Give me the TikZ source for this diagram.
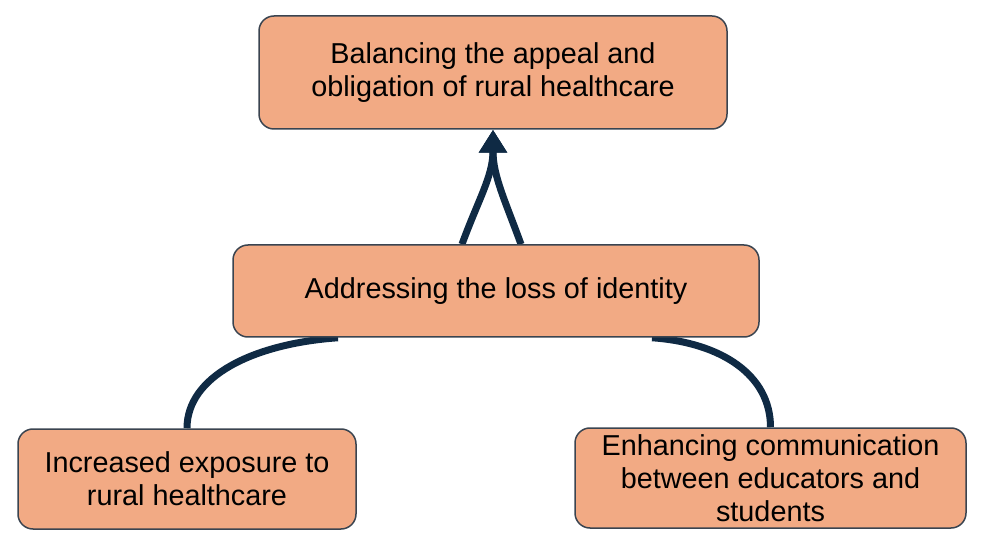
\documentclass[tikz,border=0pt]{standalone}
\usepackage{fontspec}
\setmainfont{Liberation Sans}
\usepackage{tikz}
\usetikzlibrary{arrows.meta,backgrounds}
\definecolor{salmon}{HTML}{F2AA84}
\definecolor{edge}{HTML}{3A4450}
\definecolor{navy}{HTML}{0F2A44}

\tikzset{
  theme/.style={draw=edge,line width=1.5pt,fill=salmon,rounded corners=15pt,
    align=center,inner sep=0pt,font=\fontsize{28.8}{33}\selectfont},
  link/.style={draw=navy,line width=7pt},
  lift/.style={link,-{Triangle[width=27pt,length=23pt]}}
}

\begin{document}
\begin{tikzpicture}[x=1pt,y=1pt]
  \useasboundingbox (0,0) rectangle (986,555);
  \node[theme,minimum width=468pt,minimum height=113pt] (goal) at (493,482.5)
    {Balancing the appeal and\\obligation of rural healthcare};
  \node[theme,minimum width=526pt,minimum height=92pt] (identity) at (496,264)
    {Addressing the loss of identity};
  \node[theme,minimum width=338pt,minimum height=100pt] (exposure) at (187,76)
    {Increased exposure to\\rural healthcare};
  \node[theme,minimum width=391pt,minimum height=100pt] (communication) at (770.5,77)
    {Enhancing communication\\between educators and\\students};
  \begin{scope}[on background layer]
    \draw[lift] ([xshift=-34pt]identity.north) to[out=70,in=-90] (goal.south);
    \draw[lift] ([xshift=25pt]identity.north) to[out=110,in=-90] (goal.south);
    \draw[link] (exposure.north) .. controls +(90:52) and +(184:85) .. ([xshift=-158pt]identity.south);
    \draw[link] (communication.north) .. controls +(90:52) and +(-4:70) .. ([xshift=156pt]identity.south);
  \end{scope}
\end{tikzpicture}
\end{document}
